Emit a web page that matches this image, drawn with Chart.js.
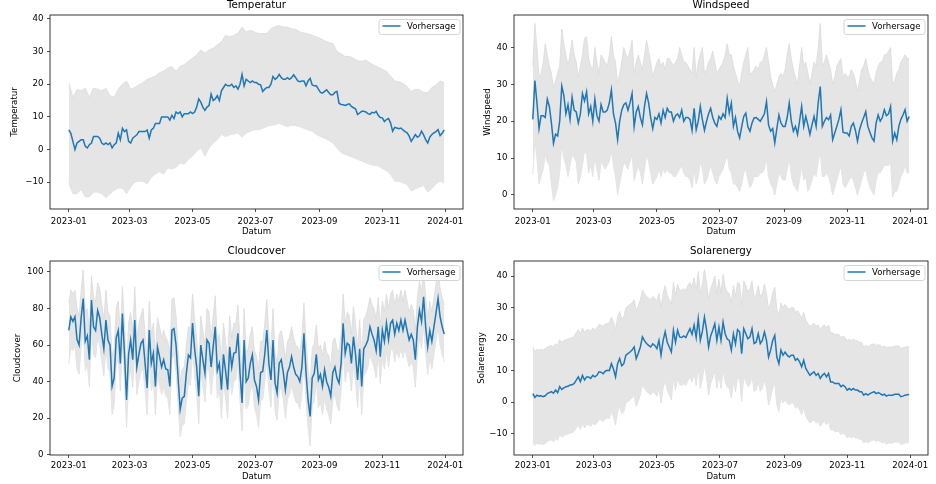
<!DOCTYPE html>
<html>
<head>
<meta charset="utf-8">
<script src="https://cdn.jsdelivr.net/npm/chart.js@4.4.1/dist/chart.umd.min.js"></script>
<style>
  body { margin: 0; background: #fff; width: 936px; height: 484px; position: relative; overflow: hidden; }
  canvas { position: absolute; }
</style>
</head>
<body>
<canvas id="temp" width="468" height="240" style="left:0;top:0"></canvas>
<canvas id="wind" width="472" height="240" style="left:464px;top:0"></canvas>
<canvas id="cloud" width="468" height="238" style="left:0;top:246px"></canvas>
<canvas id="solar" width="472" height="238" style="left:464px;top:246px"></canvas>
<script>
// days counted from 2023-01-01, line values every 2 days
const xTickDays = [0, 59, 120, 181, 243, 304, 365];
const xTickLabels = ['2023-01', '2023-03', '2023-05', '2023-07', '2023-09', '2023-11', '2024-01'];
const xLabel = 'Datum';
const legendLabel = 'Vorhersage';

const tempTicks = [-10, 0, 10, 20, 30, 40];
const windTicks = [0, 10, 20, 30, 40];
const cloudTicks = [0, 20, 40, 60, 80, 100];
const solarTicks = [-10, 0, 10, 20, 30, 40];

const tempMean = [
  6,5,2.5,0,2,2.5,3,3,1,0.5, 1.5,2,4,4,4,3.5,2,1.5,2,1.5,
  2,0.5,1.5,2,5,3,6.5,5.5,6,2.5, 2,3.5,4,4.5,5.5,5.5,5.5,5.5,6,3.5,
  6,6.5,8,8,8,10,10,10,10,9, 10.5,9.5,11.5,11,11.5,10,11,11,11,11.5,
  11,11.5,13,15.5,14.5,13,12,13,13.5,17, 15,15.5,16.5,15,18,19,20,19.5,19.5,20,
  19,19.5,18.5,20,23,19.5,21.5,21,20.5,21, 20.5,20.5,20,19.8,17.8,18.5,19,19,20,22.4,
  21.5,22,23,22,21.5,21.5,22,21.5,22,22.9, 22,21,20.8,21,21,19.5,21,21.8,19.8,19.5,
  19.5,18.5,17.5,17.3,17.8,18.3,17.5,16.8,16.8,17.5, 17.8,14.2,13.8,13.7,13.5,13.8,14,13.2,12.8,12.5,
  10.7,11.2,11.7,11.7,11.5,11,10.8,11.4,11.2,11.7, 10.5,9.8,9.7,8.6,9.2,9.5,8.1,5.6,6.8,6.6,
  6.4,6.6,6,5.5,5.1,4.1,2.5,3.5,4.6,3.8, 4.2,5.6,4.5,3,2,3.8,4.6,5.1,5.5,6.1,
  4.3,5,6
];
// band every 4 days
const tempUpper = [
  20.5,16,18.3,18,18.8,16,18.8,18.5,18,18.8, 16.5,16,18.5,20,21,18.5,19,19.8,20.5,21.5,
  22,22.5,23.5,24,25,25.4,24,25.5,26,27, 28,29,30.5,29.5,30.5,31,32,33,35,34.5,
  35,35.6,37.5,36,36.5,36,35.5,35.5,35.5,37, 37.6,38,37.5,37.5,37,36.8,36,35.7,35.4,35,
  34.5,34,33.3,32.8,32.5,30,29.3,28.5,28.5,28, 27.2,27,27.4,26.5,25.8,25.2,24.6,23.9,22.5,21,
  20.8,20.2,19.3,17.8,18.5,18.3,17.5,17.5,19,19.8, 21,20.5
];
const tempLower = [
  -10.2,-13.5,-13.5,-12.2,-14.5,-14.5,-13,-13,-13.5,-14.7, -13.5,-12.5,-11.8,-11.8,-13.5,-11.5,-10,-9.7,-9.7,-10.5,
  -8.5,-7.5,-6.8,-7.5,-5.6,-5.9,-5.5,-4.1,-4.5,-3, -2,-0.5,0.5,-2,0.5,2,3,4.6,4,4.5,
  4.8,5.1,3.8,5,5.6,6,6.1,6.5,7.1,7.4, 7.6,8,7.5,7,7.5,7.3,7,6.5,6,5.6,
  4.6,4,3.5,2.8,2,0.5,-1,-1.5,-2,-2.5, -3,-3.5,-4,-4.6,-4.8,-5,-5.8,-6.5,-7.6,-9.7,
  -9.7,-10.2,-10.7,-12.7,-12,-11.5,-11,-13,-12,-10.5, -9.7,-10.2
];

const windMean = [
  20.5,31,25,18,21.5,21.5,21,26,24,19.5, 14,16.5,16,20,29.5,27,22,24.5,20.5,26.5,
  23,22.5,19.5,22,27.5,25.5,28,22,24,20, 26,21.5,20,24.5,22.5,22.5,23,25,28.5,22,
  19.5,15,20,23,24.5,25,23,25,27.5,18.5, 22.5,24,21,19,24,27.5,25,21,18,21,
  20.5,22,19.5,23,21,23.5,22.5,22.5,20,21.5, 22,21,23,20,21,21,20.5,17.5,23.5,17.7,
  20,24,20.4,17.5,20,22,23.5,21,19.5,18.6, 21.3,20.5,22,21,26.2,22.2,24.9,18.6,21,17.3,
  15.5,18.5,21.3,22.2,18.5,17.3,19.5,20.9,21,20.5, 20,21,22,25.3,19,17.3,18,14.1,18,21.7,
  19.5,18.6,18.6,21,24.9,20,17.3,18.6,16.4,20, 24,18.6,21.3,19,16.4,19,21.3,18.6,25,29.4,
  18.6,20,21,20.4,21.7,15,16.8,18.6,20.5,23.1, 17,16.8,16.8,16,18.6,19.5,17.5,14.6,17.7,19.5,
  21,22.6,18.6,17,15.5,14.6,19.5,21.7,20,21, 23.1,21.5,22,24,14.6,16.8,15,18.6,20.5,21.7,
  23.1,20,21.3
];
// band every 2 days
const windUpper = [
  35,46.5,40,32,33,36,41,38,35,33, 29,31,33,35,45,41,38,35,38,42,
  38,36,32,35,38,42.5,43,37,35,34, 40,36,33,38,37,36,35,38,43,38,
  36,30,33,36,40,38,37,39,42,33, 36,38,36,34,38,42,39,36,32,34,
  36,37,35,36,34,37,37,36,35,36, 37,40,38,36,36,35,34,33,40,32,
  36,38,40,33,34,36,37,39,36,33, 34,35,36,38,41,38,38,35,33,31,
  29.5,33,36,38,40,33,33,34,35,34, 36,36,38,40,36,32,30,28,30,32,
  33,32,34,38,41,37,34,32,30,35, 40,35,36,33,30,33,36,35,40,46.5,
  35,36,38,36,34,30,32,35,36,37, 32,33,32,32,34,33,31,28,31,34,
  35,37,34,32,31,30,33,35,36,36, 38,38,39,40,30,31,33,34,36,37,
  38,37,37
];
const windLower = [
  5.5,15,10,3,5,7,11,9,8,3, -1.5,0,2,6,14,10,8,5,8,11,
  10,9,3,5,8,12,11,6,8,5, 10,7,4,9,8,7,8,9,12,8,
  5,0,3,6,9,8,7,9,11,4, 6,8,6,3,7,11,9,6,3,4,
  5,7,5,7,6,7,6,6,5,5, 6,7,8,6,5,5,4,2,7,3,
  5,9,7,3,4,6,8,6,4,3, 5,6,7,9,11,7,6,3,3,2,
  1,3,6,7,4,2,3,5,5,5, 6,6,7,10,5,3,2,0,3,6,
  5,4,4,7,10,5,3,2,1,4, 8,4,5,1,2,4,6,5,9,12,
  5,5,6,5,3,0,2,4,6,8, 3,2,3,4,5,4,2,0,2,4,
  6,7,4,2,1,0,4,6,6,7, 8,8,8,9,-0.5,1,1,3,5,6,
  8,6,6
];

const cloudMean = [
  68,75.5,73,75.5,63,60,75,85.5,62,65, 52,84.6,70,68,79,75,66,58,73.7,62.8,
  60,37.4,42,64,68,50,77.3,55.5,30,55, 62.8,52,73.7,48,55,61,62.8,50,36.5,68.2,
  50,55.5,37.4,59,53.7,48,52,47,46.5,37.4, 68.2,69,60,42,24.7,31,32,44.6,54.6,53,
  72,58,48,32,60,52,44.6,62.8,61,48, 59,70,46,50,35.6,55,46,35.6,59,48,
  55.5,56,66.4,45,28.3,62.8,40,42,50,54.6, 41,37.4,30,45,45.6,55,68.2,50,41,62.8,
  39.2,33.8,50,52,45,35.6,45,48,53.7,48, 44,42.8,40,48,66.4,45,30,21,42,44.6,
  55,41,44,37.4,46.5,40,37,32,45,48, 42,39.2,50,71.9,55.5,61,60,50,64.6,55,
  41,58,37.4,58,60,62.8,70,66,62.8,57, 70,53.7,68.2,62,71.9,63,71.9,73.7,66,72,
  68,73.7,68,73.7,68,62.8,66,62.8,52,70, 79,73,86.4,70,59,68,62,70,77.3,85.5,
  75.5,70,66
];
const cloudUpper = [
  83,90,88,90,80,76,90,101,78,80, 68,98,86,84,94,91,82,74,90,78,
  76,54,58,80,84,66,92,72,47,72, 78,68,92,64,72,76,80,66,52,84,
  66,72,54,75,70,64,68,64,62,55, 85,86,76,58,40,47,48,60,70,69,
  88,74,64,48,76,68,60,80,78,64, 76,87,62,66,52,72,62,52,76,64,
  72,72,82,62,45,80,56,58,66,70, 57,54,47,62,62,72,85,66,57,80,
  56,50,66,68,62,52,62,64,70,64, 60,59,56,64,83,62,47,38,58,61,
  71,58,60,54,62,56,54,48,62,64, 58,56,66,88,72,78,76,66,81,72,
  58,74,54,74,76,80,86,82,80,74, 86,70,84,78,88,80,88,90,82,88,
  84,90,84,90,84,78,82,79,68,86, 95,89,101,86,75,84,78,86,93,101,
  91,86,82
];
const cloudLower = [
  50,58,57,60,47,44,59,70,46,50, 37,69,55,53,64,60,51,43,58,47,
  45,22,27,49,53,35,62,40,15,40, 47,37,58,33,40,46,47,35,22,53,
  35,40,22,44,38,33,37,32,31,22, 53,54,45,27,10,16,17,29,39,38,
  57,43,33,17,45,37,29,47,46,33, 44,55,31,35,20,40,31,20,44,33,
  40,41,51,30,13,47,25,27,35,39, 26,22,15,30,30,40,53,35,26,47,
  24,19,35,37,30,20,30,33,38,33, 29,28,25,33,51,30,15,5,27,29,
  40,26,29,22,31,25,22,17,30,33, 27,24,35,57,40,46,45,35,49,40,
  26,43,22,43,45,48,55,51,48,42, 55,39,53,47,57,48,57,58,51,57,
  53,58,53,58,53,48,51,48,37,55, 64,58,71,55,44,53,47,55,62,70,
  60,55,51
];

const solarMean = [
  2.7,1.5,2.2,1.9,2,1.7,2,2.7,3,3.3, 2.8,3.8,3,4.9,4,4.5,4.9,5,5.4,5.5,
  5.9,7,8,6.5,8.5,7,8,8,7.5,8.5, 8,8.5,9.6,9.5,9,9.8,10.1,10,12.2,10.5,
  8,12.2,13.8,11.5,12.2,14.9,15.4,15.9,16.5,17.5, 13.8,15.5,17.5,20.7,19.5,18.6,18,17.5,18.5,18,
  17,19.6,14.9,19.5,22.3,19,17.5,15.9,22.8,19, 22.8,20.7,20.5,21,20.5,22,23.3,21.5,24.4,20.5,
  26.5,19.6,22.5,27,23,17.5,21,22.8,24.9,19.6, 23.8,19.6,25.4,21.7,20,19.6,16.5,21.7,18.5,23,
  22.3,15.4,23.3,21.7,20.1,20.7,23.3,18.6,19,21.7, 18.6,19.6,22.3,19.6,14.3,16.5,19.6,21.2,14.3,12.2,
  16.5,14.9,15.9,14.9,14.3,14.9,14.9,13.3,13.8,12.8, 11.2,13.3,10.7,9.6,8.5,9.1,9.6,8.5,9.1,7.5,
  8.5,9.1,8,9.1,6.4,6.4,5.9,5.9,5.9,4.9, 5.4,4.9,3.8,4.3,3.8,4.3,3.8,3.8,3.3,3.3,
  2.2,2.7,2.2,2.7,3,3.3,2.7,3,2.7,2.2, 2.5,1.9,2.2,2.2,2.2,2.5,2.5,2.5,1.7,1.9,
  2.2,2.3,2.4
];
const solarUpper = [
  17.5,16,16.8,16.5,16.8,16.5,17,17.5,17.8,18, 17.5,18.5,18,19.8,19,19.5,19.8,20,20.3,20.5,
  20.8,22,23,21.5,23.5,22,23,23,22.5,23.5, 23,23.5,24.6,24.5,24,24.8,25,25,27,25.5,
  23,27,28.8,26.5,27,30,30.5,31,31.5,32.5, 29,30.5,32.5,35.5,34.5,33.5,33,32.5,33.5,33,
  32,34.5,30,34.5,37,34,32.5,31,38,34, 37.5,35.5,35.5,36,35.5,37,38,36.5,39.5,35.5,
  41.5,34.5,37.5,42,38,32.5,36,37.8,40,34.5, 39,34.5,40.5,36.5,35,34.5,31.5,37,33.5,38,
  37.5,30.5,38.5,37,35,36,38.5,33.5,34,37, 33.5,34.5,37.5,34.5,29.5,31.5,34.5,36.5,29.5,27.5,
  31.5,30,31,30,29.5,30,30,28.5,29,28, 26.5,28.5,26,25,24,24.5,25,24,24.5,23,
  24,24.5,23.5,24.5,22,22,21.5,21.5,21.5,20.5, 21,20.5,19.5,20,19.5,20,19.5,19.5,19,19,
  17.5,18,17.5,18,18.3,18.5,18,18.3,18,17.5, 17.8,17.3,17.5,17.5,17.5,17.8,17.8,17.8,17,17.2,
  17.5,17.6,17.5
];
const solarLower = [
  -12.5,-13.8,-13,-13.4,-13.2,-13.5,-13.2,-12.5,-12.2,-12, -12.6,-11.5,-12.2,-10.3,-11.2,-10.7,-10.3,-10.2,-9.8,-9.7,
  -9.3,-8.2,-7.2,-8.7,-6.7,-8.2,-7.2,-7.2,-7.7,-6.7, -7.2,-6.7,-5.6,-5.7,-6.2,-5.4,-5.1,-5.2,-3,-4.7,
  -7.2,-3,-1.4,-3.7,-3,-0.3,0.2,0.7,1.3,2.3, -1.4,0.3,2.3,5.5,4.3,3.4,2.8,2.3,3.3,2.8,
  1.8,4.4,-0.3,4.3,7.1,3.8,2.3,0.7,7.6,3.8, 7.6,5.5,5.3,5.8,5.3,6.8,8.1,6.3,9.2,5.3,
  11.3,4.4,7.3,11.8,7.8,2.3,5.8,7.6,9.7,4.4, 8.6,4.4,10.2,6.5,4.8,4.4,1.3,6.5,3.3,7.8,
  7.1,0.2,8.1,6.5,4.9,5.5,8.1,3.4,3.8,6.5, 3.4,4.4,7.1,4.4,-0.9,1.3,4.4,6,-0.9,-3,
  1.3,-0.3,0.7,-0.3,-0.9,-0.3,-0.3,-1.9,-1.4,-2.4, -4,-1.9,-4.5,-5.6,-6.7,-6.1,-5.6,-6.7,-6.1,-7.7,
  -6.7,-6.1,-7.2,-6.1,-8.8,-8.8,-9.3,-9.3,-9.3,-10.3, -9.8,-10.3,-11.4,-10.9,-11.4,-10.9,-11.4,-11.4,-11.9,-11.9,
  -13,-12.5,-13,-12.5,-12.2,-11.9,-12.5,-12.2,-12.5,-13, -12.7,-13.3,-13,-13,-13,-12.7,-12.7,-12.7,-13.5,-13.3,
  -13,-12.9,-12.8
];

const lineColor = '#1f77b4';
const bandColor = '#e5e5e5';
const bandEdge = '#dadada';

Chart.defaults.font.family = '"DejaVu Sans", sans-serif';
Chart.defaults.font.size = 8.6;
Chart.defaults.color = '#000';

const frame = {
  id: 'frame',
  afterDraw(chart) {
    const a = chart.chartArea;
    const ctx = chart.ctx;
    ctx.save();
    ctx.strokeStyle = '#222';
    ctx.lineWidth = 0.9;
    ctx.strokeRect(a.left, a.top, a.right - a.left, a.bottom - a.top);
    ctx.restore();
  }
};

const insideLegend = {
  id: 'insideLegend',
  afterDraw(chart) {
    const a = chart.chartArea;
    const ctx = chart.ctx;
    const w = 81, h = 15;
    const x0 = a.right - 3 - w, y0 = a.top + 4.5;
    ctx.save();
    ctx.fillStyle = 'rgba(255,255,255,0.8)';
    ctx.strokeStyle = '#d5d5d5';
    ctx.lineWidth = 1;
    ctx.beginPath();
    ctx.roundRect(x0, y0, w, h, 2.5);
    ctx.fill();
    ctx.stroke();
    ctx.strokeStyle = lineColor;
    ctx.lineWidth = 1.5;
    ctx.beginPath();
    ctx.moveTo(x0 + 3.5, y0 + 6.5);
    ctx.lineTo(x0 + 21.5, y0 + 6.5);
    ctx.stroke();
    ctx.fillStyle = '#000';
    ctx.font = '8.6px "DejaVu Sans", sans-serif';
    ctx.textBaseline = 'middle';
    ctx.fillText(legendLabel, x0 + 28, y0 + 7.2);
    ctx.restore();
  }
};

function toPoints(vals, step) {
  return vals.map((v, i) => ({ x: i * step, y: v }));
}

function makeChart(id, title, mean, upper, lower, bandStep, yMin, yMax, yTicks, box) {
  return new Chart(document.getElementById(id), {
    type: 'line',
    data: {
      datasets: [
        { label: legendLabel, data: toPoints(mean, 2), borderColor: lineColor, borderWidth: 1.5, pointRadius: 0, fill: false },
        { label: 'upper', data: toPoints(upper, bandStep), borderColor: bandEdge, backgroundColor: bandColor, borderWidth: 0.8, pointRadius: 0, fill: '+1' },
        { label: 'lower', data: toPoints(lower, bandStep), borderColor: bandEdge, borderWidth: 0.8, pointRadius: 0, fill: false },
      ],
    },
    options: {
      responsive: false,
      animation: false,
      events: [],
      layout: { padding: { right: box.padRight } },
      plugins: {
        legend: { display: false },
        tooltip: { enabled: false },
        title: {
          display: true,
          text: title,
          fullSize: false,
          color: '#000',
          font: { size: 10.3, weight: 'normal', lineHeight: 1 },
          padding: { top: 0.5, bottom: 4.2 },
        },
      },
      scales: {
        x: {
          type: 'linear',
          min: -18.2,
          max: 382.2,
          border: { display: false },
          grid: { drawOnChartArea: false, tickLength: 3, color: '#222', lineWidth: 0.8 },
          ticks: { autoSkip: false, maxRotation: 0, minRotation: 0, padding: box.tickPad, callback: (v, i) => xTickLabels[i] },
          afterBuildTicks: (s) => { s.ticks = xTickDays.map((v) => ({ value: v })); },
          afterFit: (s) => { s.height = box.xHeight; },
          title: { display: true, text: xLabel, padding: { top: 0, bottom: box.datumPad } },
        },
        y: {
          min: yMin,
          max: yMax,
          border: { display: false },
          grid: { drawOnChartArea: false, tickLength: 3, color: '#222', lineWidth: 0.8 },
          ticks: { padding: 3.5, callback: (v) => String(v).replace('-', '\u2212') },
          afterBuildTicks: (s) => { s.ticks = yTicks.map((v) => ({ value: v })); },
          afterFit: (s) => { s.width = 50; },
          title: { display: true, text: title, padding: { top: box.yTitlePad, bottom: 0 } },
        },
      },
    },
    plugins: [frame, insideLegend],
  });
}

makeChart('temp', 'Temperatur', tempMean, tempUpper, tempLower, 4, -18.2, 41.2, tempTicks,
  { padRight: 5, xHeight: 31, datumPad: 2.8, tickPad: 4.5, yTitlePad: 9.8 });
makeChart('wind', 'Windspeed', windMean, windUpper, windLower, 2, -3.8, 48.8, windTicks,
  { padRight: 8, xHeight: 31, datumPad: 2.8, tickPad: 4.5, yTitlePad: 19.1 });
makeChart('cloud', 'Cloudcover', cloudMean, cloudUpper, cloudLower, 2, -0.1, 106, cloudTicks,
  { padRight: 5, xHeight: 29, datumPad: 1.8, tickPad: 3, yTitlePad: 13.1 });
makeChart('solar', 'Solarenergy', solarMean, solarUpper, solarLower, 2, -16.8, 44.8, solarTicks,
  { padRight: 8, xHeight: 29, datumPad: 1.8, tickPad: 3, yTitlePad: 12.5 });
</script>
</body>
</html>
